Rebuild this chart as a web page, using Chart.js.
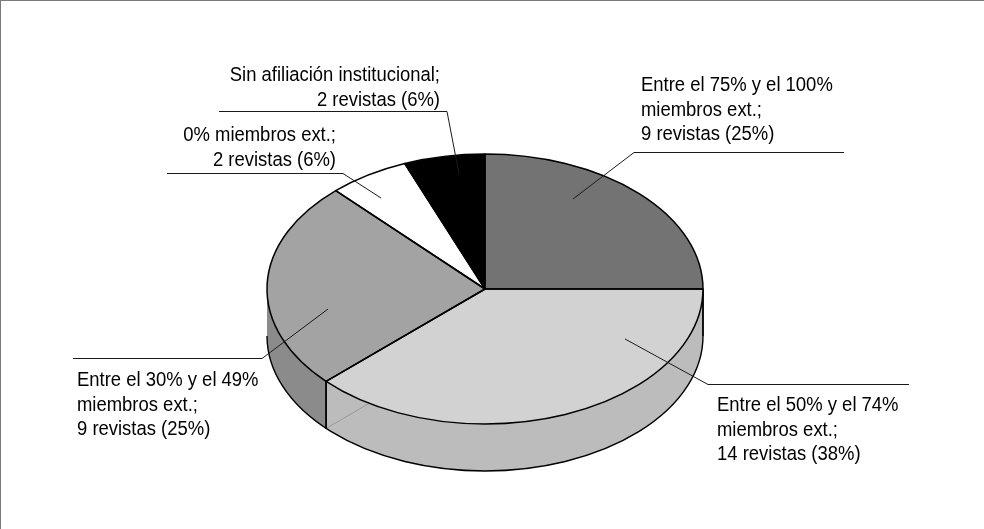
<!DOCTYPE html>
<html>
<head>
<meta charset="utf-8">
<script src="https://cdn.jsdelivr.net/npm/chart.js@4.4.1/dist/chart.umd.min.js"></script>
<style>
  html, body { margin: 0; padding: 0; background: #fff; }
  #wrap { position: relative; width: 984px; height: 529px; box-sizing: border-box; border-left: 1px solid #7a7a7a; border-top: 1px solid #7a7a7a; }
  canvas { display: block; }
</style>
</head>
<body>
<div id="wrap"><canvas id="c" width="983" height="528"></canvas></div>
<script>
// ---- data ----
const categories = [
  'Entre el 75% y el 100% miembros ext.',
  'Entre el 50% y el 74% miembros ext.',
  'Entre el 30% y el 49% miembros ext.',
  '0% miembros ext.',
  'Sin afiliación institucional'
];
const revistas = [9, 14, 9, 2, 2];
const percentValues = [25, 38, 25, 6, 6];
const labelHeadLines = [
  ['Entre el 75% y el 100%', 'miembros ext.;'],
  ['Entre el 50% y el 74%', 'miembros ext.;'],
  ['Entre el 30% y el 49%', 'miembros ext.;'],
  ['0% miembros ext.;'],
  ['Sin afiliación institucional;']
];

// ---- styles / layout ----
const topColors  = ['#737373', '#d2d2d2', '#a3a3a3', '#ffffff', '#000000'];
const sideColors = ['#5c5c5c', '#bcbcbc', '#8b8b8b', '#e0e0e0', '#000000'];
const yScale = 135 / 218;   // ellipse flattening
const depth = 47;           // pie thickness in px
const labelLayout = [
  { x: 640, y: 90,  align: 'left',  elbow: [633, 151], lineEnd: 843, tip: [0.404, -0.667] },
  { x: 716, y: 410, align: 'left',  elbow: [707, 383], lineEnd: 908, tip: [0.642, 0.370] },
  { x: 76,  y: 385, align: 'left',  elbow: [261, 357], lineEnd: 72,  tip: [-0.720, 0.148] },
  { x: 335, y: 140, align: 'right', elbow: [342, 172], lineEnd: 166, tip: [-0.477, -0.674] },
  { x: 439, y: 80,  align: 'right', elbow: [446, 110], lineEnd: 218, tip: [-0.119, -0.852] }
];
const lineGap = 24.5;
const fontSpec = '20.5px "Liberation Sans", Arial, sans-serif';
const textSX = 0.9;

function geom(chart) {
  const arcs = chart.getDatasetMeta(0).data;
  const a = arcs[0];
  return { arcs, cx: a.x, cy: a.y, rx: a.outerRadius, ry: a.outerRadius * yScale };
}

const pie3d = {
  id: 'pie3d',
  beforeDatasetsDraw(chart) {
    const ctx = chart.ctx;
    const { arcs, cx, cy, rx, ry } = geom(chart);
    ctx.save();
    arcs.forEach((arc, i) => {
      const a0 = Math.max(arc.startAngle, 0);
      const a1 = Math.min(arc.endAngle, Math.PI);
      if (a1 <= a0) return;
      ctx.beginPath();
      ctx.ellipse(cx, cy, rx, ry, 0, a0, a1, false);
      ctx.lineTo(cx + rx * Math.cos(a1), cy + depth + ry * Math.sin(a1));
      ctx.ellipse(cx, cy + depth, rx, ry, 0, a1, a0, true);
      ctx.closePath();
      ctx.fillStyle = sideColors[i];
      ctx.fill();
    });
    arcs.forEach((arc) => {
      const b = arc.startAngle;
      if (b > 0.001 && b < Math.PI - 0.001) {
        ctx.beginPath();
        ctx.moveTo(cx + rx * Math.cos(b), cy + depth + ry * Math.sin(b));
        ctx.lineTo(cx, cy + depth);
        ctx.strokeStyle = '#8a8a8a';
        ctx.lineWidth = 0.7;
        ctx.stroke();
      }
    });
    ctx.strokeStyle = '#000';
    ctx.lineWidth = 1.4;
    ctx.beginPath();
    ctx.ellipse(cx, cy + depth, rx, ry, 0, 0, Math.PI, false);
    ctx.stroke();
    arcs.forEach((arc) => {
      [arc.startAngle, arc.endAngle].forEach((b) => {
        if (b >= -0.001 && b <= Math.PI + 0.001) {
          ctx.beginPath();
          ctx.moveTo(cx + rx * Math.cos(b), cy + ry * Math.sin(b));
          ctx.lineTo(cx + rx * Math.cos(b), cy + depth + ry * Math.sin(b));
          ctx.stroke();
        }
      });
    });
    ctx.restore();
  },
  beforeDatasetDraw(chart) {
    const ctx = chart.ctx;
    const { cx, cy } = geom(chart);
    ctx.save();
    ctx.translate(cx, cy);
    ctx.scale(1, yScale);
    ctx.translate(-cx, -cy);
  },
  afterDatasetDraw(chart) {
    chart.ctx.restore();
  },
  afterDatasetsDraw(chart) {
    const ctx = chart.ctx;
    const { arcs, cx, cy, rx, ry } = geom(chart);
    ctx.save();
    ctx.strokeStyle = '#000';
    ctx.lineWidth = 1.5;
    ctx.lineJoin = 'round';
    arcs.forEach((arc) => {
      ctx.beginPath();
      ctx.moveTo(cx, cy);
      ctx.lineTo(cx + rx * Math.cos(arc.startAngle), cy + ry * Math.sin(arc.startAngle));
      ctx.ellipse(cx, cy, rx, ry, 0, arc.startAngle, arc.endAngle, false);
      ctx.closePath();
      ctx.stroke();
    });
    ctx.font = fontSpec;
    ctx.fillStyle = '#000';
    ctx.textBaseline = 'alphabetic';
    labelLayout.forEach((L, i) => {
      const lines = labelHeadLines[i].concat([revistas[i] + ' revistas (' + percentValues[i] + '%)']);
      lines.forEach((t, k) => {
        ctx.save();
        ctx.translate(L.x, L.y + k * lineGap);
        ctx.scale(textSX, 1);
        ctx.textAlign = L.align;
        ctx.fillText(t, 0, 0);
        ctx.restore();
      });
      const tx = cx + L.tip[0] * rx, ty = cy + L.tip[1] * ry;
      ctx.beginPath();
      ctx.moveTo(L.lineEnd, L.elbow[1] + 0.5);
      ctx.lineTo(L.elbow[0], L.elbow[1] + 0.5);
      ctx.lineTo(tx, ty);
      ctx.strokeStyle = '#1a1a1a';
      ctx.lineWidth = 1;
      ctx.stroke();
    });
    ctx.restore();
  }
};

new Chart(document.getElementById('c'), {
  type: 'pie',
  data: {
    labels: categories,
    datasets: [{
      data: percentValues,
      backgroundColor: topColors,
      borderColor: '#000',
      borderWidth: 0,
      radius: 218,
      clip: false
    }]
  },
  options: {
    responsive: false,
    animation: false,
    events: [],
    rotation: 0,
    layout: { padding: { left: 266, right: 281, top: 70, bottom: 22 } },
    plugins: { legend: { display: false }, tooltip: { enabled: false } }
  },
  plugins: [pie3d]
});
</script>
</body>
</html>
